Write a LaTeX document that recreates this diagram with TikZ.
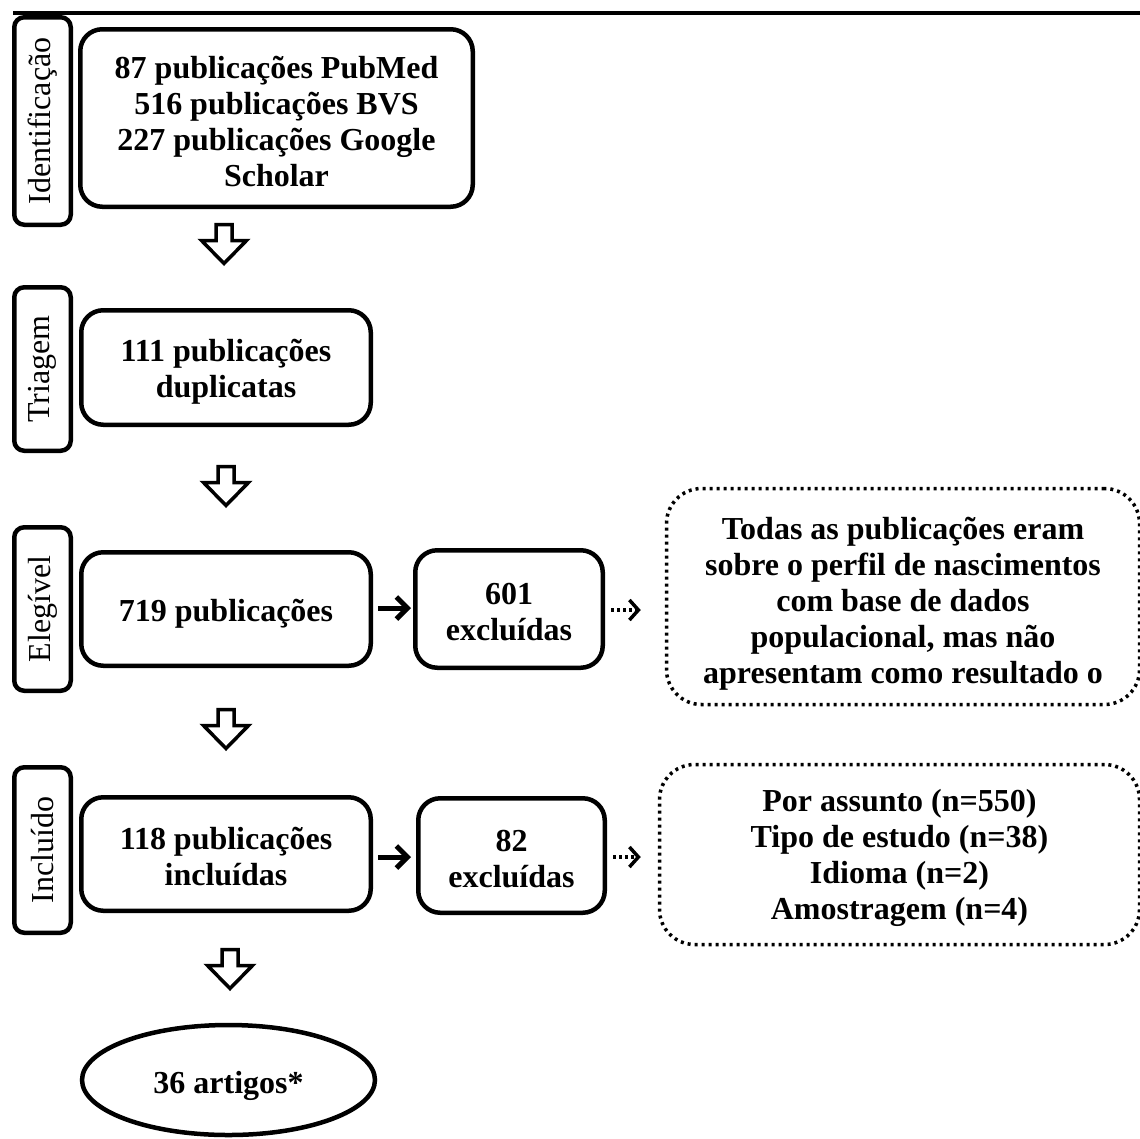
\documentclass[tikz,border=0pt]{standalone}
\usepackage{fontspec}
\setmainfont{Liberation Serif}
\usetikzlibrary{arrows.meta,shapes.geometric,calc}
\newcommand\upstrut[1]{\rule{0pt}{#1}}
\begin{document}
\begin{tikzpicture}[x=1pt,y=-1pt,
  lab/.style={draw, line width=4.5pt, rounded corners=10pt, rotate=90, inner sep=0pt,
    minimum height=56.5pt, font=\fontsize{32}{36}\selectfont},
  box/.style={draw, line width=4.5pt, rounded corners=22pt, align=center, inner sep=0pt,
    font=\fontsize{32}{36}\selectfont\bfseries},
  dbox/.style={draw, line width=3.5pt, dash pattern=on 3pt off 4pt, rounded corners=35pt,
    align=center, inner sep=0pt, font=\fontsize{32}{36}\selectfont\bfseries},
  blk/.style={draw, line width=3.5pt, line join=miter},
  sarr/.style={line width=5pt, -{Straight Barb[length=11pt,width=22pt]}},
  darr/.style={line width=3.5pt, dash pattern=on 3pt off 3pt, -{Straight Barb[length=9pt,width=20pt]}},
]
\useasboundingbox (0,0) rectangle (1140,1138);
\clip (0,0) rectangle (1140,1138);
\fill[white] (0,0) rectangle (1140,1138);

% top rule
\draw[line width=3.5pt] (13,13) -- (1141,13);

% stage labels
\node[lab, minimum width=207.5pt] (labI) at (42.5,121) {Identificação};
\node[lab, minimum width=163.5pt] (labT) at (42.5,369) {Triagem};
\node[lab, minimum width=163.5pt] (labE) at (42.5,609) {Elegível};
\node[lab, minimum width=165.5pt] (labC) at (42.5,850) {Incluído};

% main boxes
\node[box, minimum width=392.5pt, minimum height=177.5pt] (boxI) at (276.5,118)
  {\upstrut{30pt}87 publicações PubMed\\516 publicações BVS\\227 publicações Google\\Scholar};
\node[box, minimum width=289.5pt, minimum height=114.5pt] (boxT) at (226,367.5)
  {\upstrut{30pt}111 publicações\\duplicatas};
\node[box, minimum width=289.5pt, minimum height=113.5pt] (boxE) at (226,609)
  {\upstrut{32pt}719 publicações};
\node[box, minimum width=187.5pt, minimum height=117.5pt] (box601) at (509,609)
  {\upstrut{28pt}601\\excluídas};
\node[box, minimum width=289.5pt, minimum height=113.5pt] (boxC) at (226,854)
  {\upstrut{28pt}118 publicações\\incluídas};
\node[box, minimum width=186.5pt, minimum height=114.5pt] (box82) at (511.5,855.5)
  {\upstrut{28pt}82\\excluídas};

% dotted boxes
\node[dbox, minimum width=473pt, minimum height=216pt] (note1) at (903,596.5)
  {\upstrut{36pt}Todas as publicações eram\\sobre o perfil de nascimentos\\com base de dados\\populacional, mas não\\apresentam como resultado o};
\node[dbox, minimum width=480pt, minimum height=180pt] (note2) at (899.5,854.5)
  {\upstrut{30pt}Por assunto (n=550)\\Tipo de estudo (n=38)\\Idioma (n=2)\\Amostragem (n=4)};

% final ellipse
\node[ellipse, draw, line width=4.5pt, inner sep=0pt, minimum width=293pt, minimum height=110pt,
  font=\fontsize{32}{36}\selectfont\bfseries] (art) at (228.5,1080) {\upstrut{34pt}36 artigos*};

% block arrows (down)
\coordinate (a1) at (224,224.5);
\coordinate (a2) at (226,466.5);
\coordinate (a3) at (226,709.5);
\coordinate (a4) at (230,949.5);
\foreach \a in {a1,a2,a3,a4}{
  \draw[blk] (\a) ++(-8,0) -- ++(16,0) -- ++(0,16) -- ++(14.5,0) -- ++(-22.5,23)
    -- ++(-22.5,-23) -- ++(14.5,0) -- cycle;
}

% horizontal arrows
\draw[sarr, shorten <=5pt, shorten >=2pt] ([yshift=1pt]boxE.east) -- ([yshift=1pt]box601.west);
\draw[sarr, shorten <=5pt, shorten >=5pt] ([yshift=-3pt]boxC.east) -- ([yshift=-3pt]boxC.east -| box82.west);
\draw[darr, shorten <=6pt, shorten >=24pt] ([yshift=-1pt]box601.east) -- ([yshift=-1pt]box601.east -| note1.west);
\draw[darr, shorten <=6pt, shorten >=17pt] ([yshift=-1.5pt]box82.east) -- ([yshift=-1.5pt]box82.east -| note2.west);
\end{tikzpicture}
\end{document}
